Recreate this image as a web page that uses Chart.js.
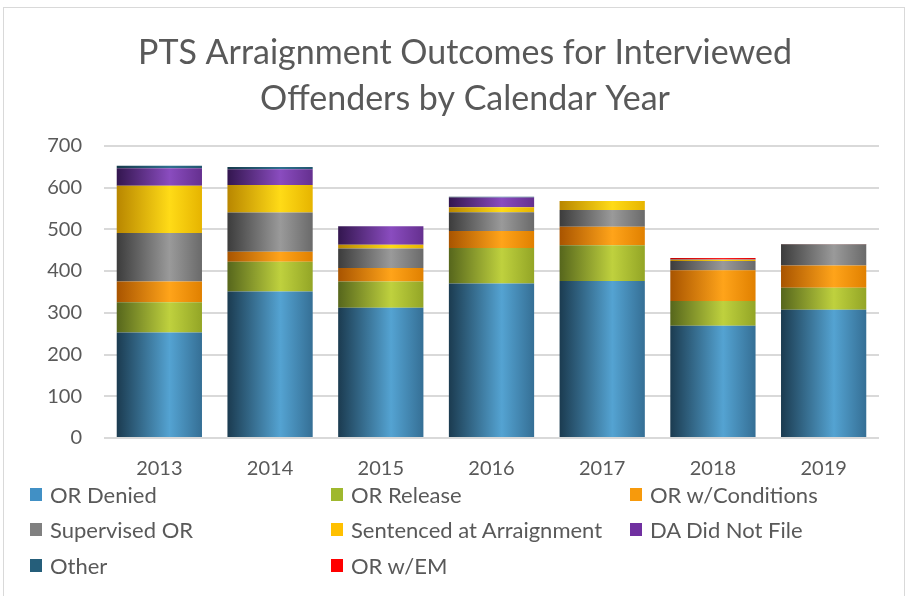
<!DOCTYPE html>
<html>
<head>
<meta charset="utf-8">
<script src="https://cdn.jsdelivr.net/npm/chart.js@4"></script>
<style>
  html, body { margin:0; padding:0; background:#fff; }
  body { width:910px; height:596px; position:relative; overflow:hidden; font-family: Lato, "Open Sans", sans-serif; }
  #frame { position:absolute; left:3px; top:7px; width:902px; height:620px; border:1px solid #d9d9d9; box-sizing:border-box; }
  #wrap { position:absolute; left:0; top:0; width:910px; height:502px; }
  #legend { position:absolute; left:0; top:0; width:910px; height:596px; pointer-events:none; }
  .li { position:absolute; display:flex; align-items:center; color:#595959; font-size:22px; white-space:nowrap; }
  .sw { width:12px; height:13px; margin-right:8px; flex:none; }
</style>
</head>
<body>
<div id="frame"></div>
<div id="wrap"><canvas id="c" width="910" height="502"></canvas></div>
<div id="legend"></div>
<script>
const categories = ["2013", "2014", "2015", "2016", "2017", "2018", "2019"];
const seriesNames = ["OR Denied", "OR Release", "OR w/Conditions", "Supervised OR", "Sentenced at Arraignment", "DA Did Not File", "Other", "OR w/EM"];
const orDenied      = [253, 351, 312, 370, 376, 269, 307];
const orRelease     = [72, 71, 63, 85, 86, 59, 53];
const orConditions  = [50, 24, 32, 41, 44, 74, 53];
const supervisedOR  = [116, 94, 47, 45, 40, 22, 51];
const sentenced     = [113, 66, 9, 12, 22, 3, 0];
const daDidNotFile  = [42, 38, 44, 23, 0, 1, 0];
const other         = [6, 5, 0, 2, 0, 0, 0];
const orEM          = [0, 0, 0, 0, 0, 3, 1];
const yTicks = [0, 100, 200, 300, 400, 500, 600, 700];

const seriesValues = [orDenied, orRelease, orConditions, supervisedOR, sentenced, daDidNotFile, other, orEM];
// [legend colour, dark edge, highlight, right edge]
const palette = [
  ["#4190c5", "#1b3b50", "#54a3d2", "#356f95"],
  ["#9fb82e", "#56661c", "#bfd13e", "#93a526"],
  ["#f79a0c", "#a85400", "#ffa41a", "#e08000"],
  ["#808080", "#3c3c3c", "#9a9a9a", "#6a6a6a"],
  ["#ffc000", "#b88600", "#ffdb17", "#e6b400"],
  ["#7030a0", "#33164f", "#8a4cbf", "#65308f"],
  ["#255e7a", "#173a4c", "#2f6f8f", "#235670"],
  ["#ff0000", "#c00000", "#ff2020", "#e00000"]
];

const BAR_FRAC = 0.77;
function gradFor(i) {
  return function(ctx) {
    const chart = ctx.chart;
    if (!chart.chartArea) return palette[i][0];
    const xs = chart.scales.x;
    const cx = xs.getPixelForValue(ctx.dataIndex);
    const w = (xs.width / categories.length) * BAR_FRAC;
    const g = chart.ctx.createLinearGradient(cx - w / 2, 0, cx + w / 2, 0);
    g.addColorStop(0, palette[i][1]);
    g.addColorStop(0.62, palette[i][2]);
    g.addColorStop(1, palette[i][3]);
    return g;
  };
}

const datasets = seriesNames.map((name, i) => ({
  label: name,
  data: seriesValues[i],
  backgroundColor: gradFor(i),
  borderWidth: 0,
  barPercentage: 1,
  categoryPercentage: BAR_FRAC
}));

const chart = new Chart(document.getElementById("c"), {
  type: "bar",
  data: { labels: categories, datasets },
  options: {
    responsive: false,
    animation: false,
    layout: { padding: { left: 20, right: 0, top: 0, bottom: 2 } },
    plugins: {
      legend: { display: false },
      tooltip: { enabled: false },
      title: {
        display: true,
        text: ["PTS Arraignment Outcomes for Interviewed", "Offenders by Calendar Year"],
        color: "#595959",
        font: { family: "Lato", size: 34, weight: "normal", lineHeight: 1.35 },
        padding: { top: 30, bottom: 24 }
      }
    },
    scales: {
      x: {
        stacked: true,
        grid: { display: false, drawTicks: false },
        border: { display: false },
        ticks: { color: "#595959", font: { family: "Lato", size: 20 }, padding: 19 }
      },
      y: {
        stacked: true,
        min: 0, max: 700,
        afterBuildTicks: (s) => { s.ticks = yTicks.map(v => ({ value: v })); },
        afterFit: (s) => { s.width = 84; },
        grid: { color: "#d9d9d9", lineWidth: 2, drawTicks: false },
        border: { display: false },
        ticks: { color: "#595959", font: { family: "Lato", size: 20 }, padding: 22 }
      },
      yRight: {
        type: "linear",
        position: "right",
        min: 0, max: 700,
        afterFit: (s) => { s.width = 31; },
        grid: { drawOnChartArea: false, drawTicks: false },
        border: { display: false },
        ticks: { display: false }
      }
    }
  }
});

// HTML legend built from the chart's datasets
const legendEl = document.getElementById("legend");
const colX = [30, 331, 630];
const rowY = [494, 529, 565];
chart.data.datasets.forEach((ds, i) => {
  const d = document.createElement("div");
  d.className = "li";
  d.style.left = colX[i % 3] + "px";
  d.style.top = (rowY[Math.floor(i / 3)] - 13) + "px";
  d.style.height = "26px";
  const sw = document.createElement("span");
  sw.className = "sw";
  sw.style.background = palette[i][0];
  const t = document.createElement("span");
  t.textContent = ds.label;
  d.appendChild(sw); d.appendChild(t);
  legendEl.appendChild(d);
});
</script>
</body>
</html>
